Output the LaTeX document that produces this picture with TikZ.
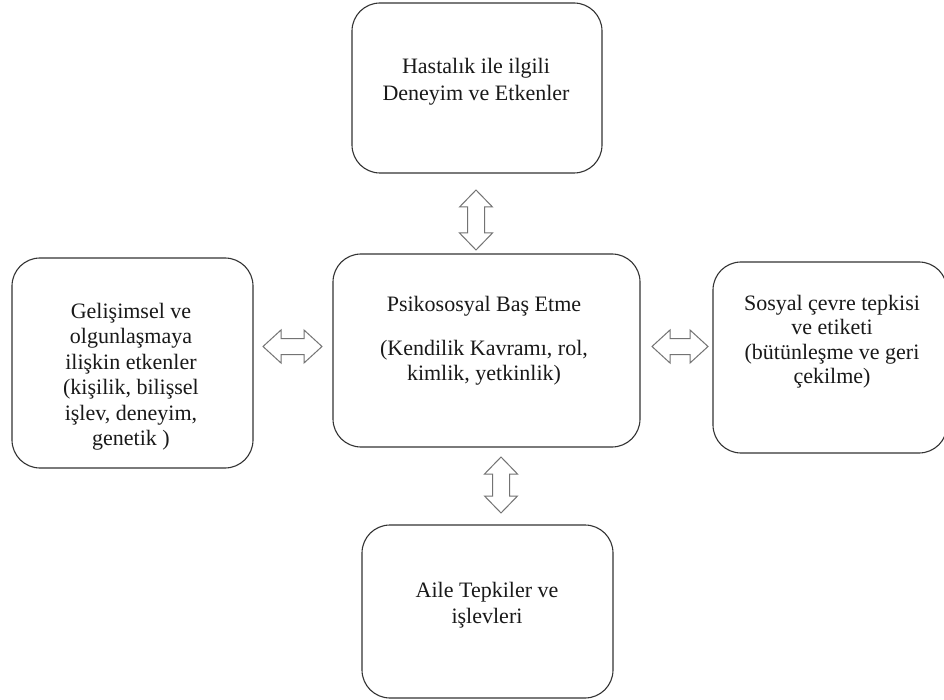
\documentclass[tikz,border=0pt]{standalone}
\usepackage{fontspec}
\setmainfont{Liberation Serif}
\newcommand{\vblockarrow}[2]{%
  \draw[blockarrow] ([shift={(0,-#2)}]#1) -- ([shift={(16.5,-#2+17)}]#1) -- ([shift={(8.5,-#2+17)}]#1)
    -- ([shift={(8.5,#2-17)}]#1) -- ([shift={(16.5,#2-17)}]#1) -- ([shift={(0,#2)}]#1)
    -- ([shift={(-16.5,#2-17)}]#1) -- ([shift={(-8.5,#2-17)}]#1) -- ([shift={(-8.5,-#2+17)}]#1)
    -- ([shift={(-16.5,-#2+17)}]#1) -- cycle;}
\newcommand{\hblockarrow}[2]{%
  \draw[blockarrow] ([shift={(-#2,0)}]#1) -- ([shift={(-#2+18,-16.5)}]#1) -- ([shift={(-#2+18,-8)}]#1)
    -- ([shift={(#2-18,-8)}]#1) -- ([shift={(#2-18,-16.5)}]#1) -- ([shift={(#2,0)}]#1)
    -- ([shift={(#2-18,16.5)}]#1) -- ([shift={(#2-18,8)}]#1) -- ([shift={(-#2+18,8)}]#1)
    -- ([shift={(-#2+18,16.5)}]#1) -- cycle;}
\begin{document}
\begin{tikzpicture}[x=1pt,y=-1pt,
  box/.style={draw=black!80, line width=1.1pt, rounded corners=28pt, fill=white, inner sep=0pt},
  lbl/.style={font=\fontsize{22}{25.5}\selectfont, align=center, inner sep=0pt, text=black!90},
  blockarrow/.style={draw=black!55, line width=1pt, fill=white, line join=miter}]
\useasboundingbox (0,0) rectangle (944,700);
\fill[white] (0,0) rectangle (944,700);
\clip (0,0) rectangle (944,700);

% boxes
\node[box, minimum width=250pt, minimum height=170pt] (top) at (477,88) {};
\node[box, minimum width=241pt, minimum height=210pt] (left) at (132.5,363) {};
\node[box, minimum width=307pt, minimum height=193pt] (center) at (486.5,350.5) {};
\node[box, minimum width=234pt, minimum height=191pt] (right) at (830,357.5) {};
\node[box, minimum width=251pt, minimum height=173pt] (bottom) at (487.5,611.5) {};

% texts
\node[lbl, font=\fontsize{22}{27}\selectfont] (toptext) at (476,81.5) {Hastalık ile ilgili\\Deneyim ve Etkenler};
\node[lbl] (lefttext) at (131,376.5) {Gelişimsel ve\\olgunlaşmaya\\ilişkin etkenler\\(kişilik, bilişsel\\işlev, deneyim,\\genetik )};
\node[lbl, font=\fontsize{22}{25}\selectfont] (centertext) at (484,340.5) {Psikososyal Baş Etme\\[19pt](Kendilik Kavramı, rol,\\kimlik, yetkinlik)};
\node[lbl, font=\fontsize{22}{24.5}\selectfont] (righttext) at (832,341.5) {Sosyal çevre tepkisi\\ve etiketi\\(bütünleşme ve geri\\çekilme)};
\node[lbl, font=\fontsize{22}{26}\selectfont] (bottomtext) at (487,605) {Aile Tepkiler ve\\işlevleri};

% block arrows between boxes
\coordinate (atop) at (476,220);
\coordinate (abottom) at (501,485);
\coordinate (aleft) at (292.5,346.5);
\coordinate (aright) at (680,346.5);
\vblockarrow{atop}{30}
\vblockarrow{abottom}{28}
\hblockarrow{aleft}{29.5}
\hblockarrow{aright}{28}
\end{tikzpicture}
\end{document}
